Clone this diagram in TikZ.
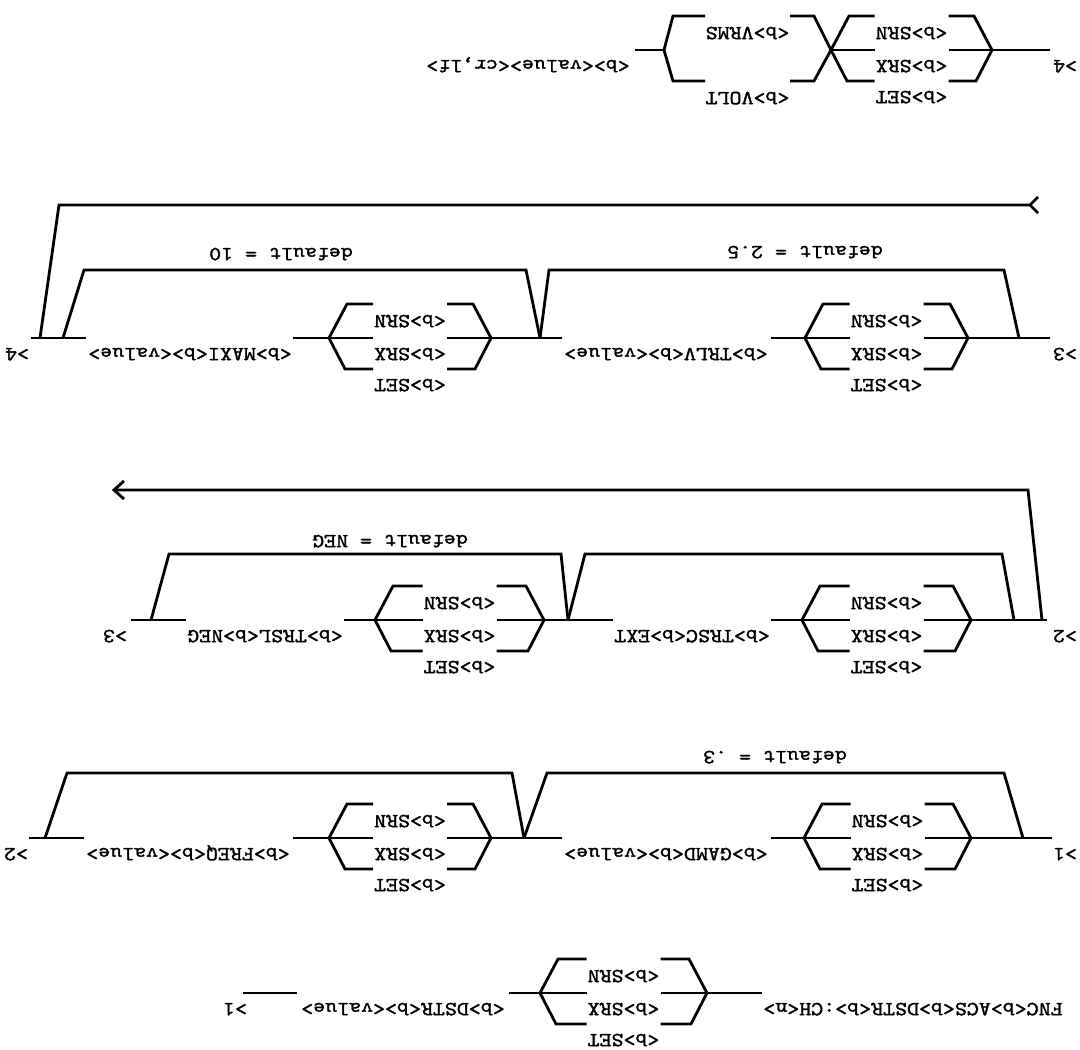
\documentclass[tikz,border=0pt]{standalone}
\usepackage{fontspec}
\newfontfamily\tw{lmmono10-regular}[Extension=.otf, FakeStretch=1.14, FakeBold=1.6]
\tikzset{
  ln/.style={line width=2.8pt, line join=miter},
  lbl/.style={font=\tw\fontsize{20}{24}\selectfont, rotate=180, inner sep=0pt,
              text height=12pt, text depth=0pt, anchor=center}
}
% choice block: #1 xL, #2 xR, #3 main y, #4 name prefix
\newcommand\chblk[4]{%
  \draw[ln] (#1,#3) -- ({#1+18},{#3-34}) -- ({(#1+#2)/2-37},{#3-34});
  \draw[ln] ({(#1+#2)/2+37},{#3-34}) -- ({#2-18},{#3-34}) -- (#2,#3);
  \draw[ln] (#1,#3) -- ({(#1+#2)/2-37},#3);
  \draw[ln] ({(#1+#2)/2+37},#3) -- (#2,#3);
  \draw[ln] (#1,#3) -- ({#1+16},{#3+31}) -- ({(#1+#2)/2-37},{#3+31});
  \draw[ln] ({(#1+#2)/2+37},{#3+31}) -- ({#2-16},{#3+31}) -- (#2,#3);
  \node[lbl] (#4srn) at ({(#1+#2)/2},{#3-17}) {<b>SRN};
  \node[lbl] (#4srx) at ({(#1+#2)/2},{#3+16}) {<b>SRX};
  \node[lbl] (#4set) at ({(#1+#2)/2},{#3+47}) {<b>SET};
}
\begin{document}
\begin{tikzpicture}[x=1pt,y=-1pt]
\useasboundingbox[fill=white] (0,0) rectangle (1080,1050);

% ---------------- Row A (top, main y = 50)
\node[lbl] (a4) at (1065,66) {>4};
\draw[ln] (992,50) -- (1050,50);
\chblk{831}{992}{50}{ra}
\draw[ln] (664,50) -- (673,16) -- (705,16);
\draw[ln] (790,16) -- (814,16) -- (831,50);
\draw[ln] (664,50) -- (673,81) -- (705,81);
\draw[ln] (790,81) -- (814,81) -- (831,50);
\node[lbl] (vrms) at (747.5,33) {<b>VRMS};
\node[lbl] (volt) at (747.5,98) {<b>VOLT};
\draw[ln] (635,50) -- (664,50);
\node[lbl] (crlf) at (528,66) {<b><value><cr,lf>};

% ---------------- Row D (main y = 338)
\node[lbl] (d3) at (1065,354) {>3};
\draw[ln] (968,338) -- (1050,338);
\draw[ln] (1038,197) -- (1030,205) -- (1038,213);
\draw[ln] (1030,205) -- (59,205) -- (40,338);
\draw[ln] (1019,338) -- (1004,270) -- (549,270) -- (540,338);
\node[lbl] (d25) at (805,252) {default = 2.5};
\chblk{805}{968}{338}{rdr}
\draw[ln] (771,338) -- (805,338);
\node[lbl] (trlv) at (666,354) {<b>TRLV<b><value>};
\draw[ln] (491,338) -- (562,338);
\draw[ln] (540,338) -- (526,270) -- (84,270) -- (63,338);
\node[lbl] (d10) at (281,254) {default = 10};
\chblk{329}{491}{338}{rdl}
\draw[ln] (293,338) -- (329,338);
\node[lbl] (maxi) at (190,354) {<b>MAXI<b><value>};
\draw[ln] (31,338) -- (86,338);
\node[lbl] (d4) at (17,354) {>4};

% ---------------- Row C (main y = 620)
\node[lbl] (c2) at (1065,636) {>2};
\draw[ln] (971,620) -- (1047,620);
\draw[ln] (1042,620) -- (1028,490) -- (114,490);
\draw[ln] (124,481) -- (114,490) -- (124,499);
\draw[ln] (1014,620) -- (1002,554) -- (585,554) -- (568,620);
\chblk{802}{971}{620}{rcr}
\draw[ln] (771,620) -- (802,620);
\node[lbl] (trsc) at (692,636) {<b>TRSC<b>EXT};
\draw[ln] (544,620) -- (613,620);
\draw[ln] (568,620) -- (561,554) -- (169,554) -- (151,620);
\node[lbl] (dneg) at (390,541) {default = NEG};
\chblk{375}{544}{620}{rcl}
\draw[ln] (344,620) -- (375,620);
\node[lbl] (trsl) at (265,636) {<b>TRSL<b>NEG};
\draw[ln] (131,620) -- (186,620);
\node[lbl] (c3) at (115,636) {>3};

% ---------------- Row B (main y = 838)
\node[lbl] (b1) at (1065,854) {>1};
\draw[ln] (971,838) -- (1052,838);
\draw[ln] (1023,838) -- (1004,773) -- (547,773) -- (524,838);
\node[lbl] (d3b) at (775,757) {default = .3};
\chblk{804}{971}{838}{rbr}
\draw[ln] (771,838) -- (804,838);
\node[lbl] (gamd) at (666,854) {<b>GAMD<b><value>};
\draw[ln] (491,838) -- (562,838);
\draw[ln] (524,838) -- (512,773) -- (67,773) -- (45,838);
\chblk{329}{491}{838}{rbl}
\draw[ln] (293,838) -- (329,838);
\node[lbl] (freq) at (188,854) {<b>FREQ<b><value>};
\draw[ln] (29,838) -- (84,838);
\node[lbl] (b2) at (16,854) {>2};

% ---------------- Row E (bottom, main y = 993)
\node[lbl] (e1) at (235,1009) {>1};
\draw[ln] (243,993) -- (297,993);
\node[lbl] (dstr) at (403,1009) {<b>DSTR<b><value>};
\draw[ln] (509,993) -- (540,993);
\chblk{540}{707}{993}{re}
\draw[ln] (707,993) -- (762,993);
\node[lbl] (fnc) at (913,1009) {FNC<b>ACS<b>DSTR<b>:CH<n>};
\end{tikzpicture}
\end{document}
